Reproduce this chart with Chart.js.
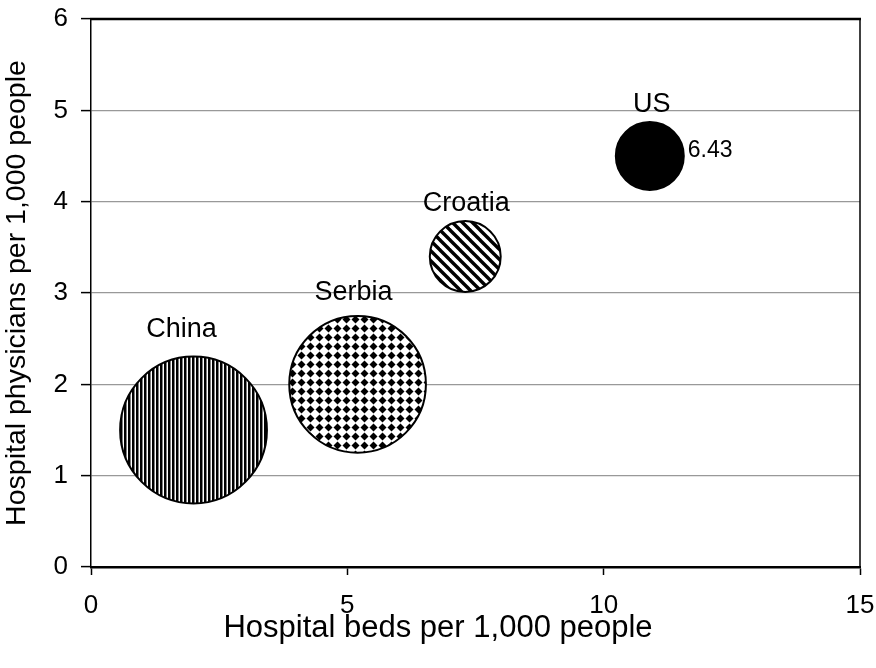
<!DOCTYPE html>
<html>
<head>
<meta charset="utf-8">
<script src="https://cdn.jsdelivr.net/npm/chart.js@4/dist/chart.umd.min.js"></script>
<style>
  html, body { margin: 0; padding: 0; background: #ffffff; }
  #wrap { width: 876px; height: 668px; }
</style>
</head>
<body>
<div id="wrap"><canvas id="chart" width="876" height="668"></canvas></div>
<script>
// Hospital resources by country
const categories = ['China', 'Serbia', 'Croatia', 'US'];
const bedsPer1000 = [2.0, 5.2, 7.3, 10.9];
const physiciansPer1000 = [1.5, 2.0, 3.4, 4.5];
const bubbleSizes = [30, 26, 7, 6.43];
const sizeLabelShown = [false, false, false, true];
const xTickValues = [0, 5, 10, 15];
const yTickValues = [0, 1, 2, 3, 4, 5, 6];
const xTitle = 'Hospital beds per 1,000 people';
const yTitle = 'Hospital physicians per 1,000 people';

const FONT = 'Liberation Sans, Arial, Helvetica, sans-serif';
const RADIUS_PER_SQRT_SIZE = 13.4;   // bubble area proportional to size

// ---- fill patterns -------------------------------------------------------
function makeTile(w, h, paint) {
  const c = document.createElement('canvas');
  c.width = w; c.height = h;
  const g = c.getContext('2d');
  g.fillStyle = '#ffffff';
  g.fillRect(0, 0, w, h);
  g.fillStyle = '#000000';
  g.strokeStyle = '#000000';
  paint(g, w, h);
  return g.createPattern(c, 'repeat');
}
const verticalStripes = makeTile(4, 4, (g) => { g.fillRect(0, 0, 2.5, 4); });
const diamonds = makeTile(9, 9, (g) => {
  g.beginPath();
  g.moveTo(4.5, 0.5); g.lineTo(8.5, 4.5); g.lineTo(4.5, 8.5); g.lineTo(0.5, 4.5);
  g.closePath(); g.fill();
});
const diagonalStripes = makeTile(10, 10, (g) => {
  g.lineWidth = 3.4;
  for (let k = -10; k <= 10; k += 10) {
    g.beginPath(); g.moveTo(k - 2, -2); g.lineTo(k + 12, 12); g.stroke();
  }
});
const fills = [verticalStripes, diamonds, diagonalStripes, '#000000'];

const points = categories.map((name, i) => ({
  x: bedsPer1000[i],
  y: physiciansPer1000[i],
  r: RADIUS_PER_SQRT_SIZE * Math.sqrt(bubbleSizes[i])
}));

// ---- frame on top and right of the plot, horizontal axis title -------------
const frame = {
  id: 'frame',
  afterDraw(chart) {
    const { ctx, chartArea: a } = chart;
    ctx.save();
    ctx.strokeStyle = '#000000';
    ctx.lineWidth = 2.5;
    ctx.beginPath(); ctx.moveTo(a.left - 1, a.top); ctx.lineTo(a.right + 1, a.top); ctx.stroke();
    ctx.lineWidth = 1.5;
    ctx.beginPath(); ctx.moveTo(a.right, a.top); ctx.lineTo(a.right, a.bottom); ctx.stroke();

    ctx.fillStyle = '#000000';
    ctx.font = '31px ' + FONT;
    ctx.textAlign = 'center';
    ctx.textBaseline = 'middle';
    ctx.fillText(xTitle, chart.width / 2, 628);
    ctx.restore();
  }
};

// ---- country names above bubbles and size value labels ---------------------
const bubbleLabels = {
  id: 'bubbleLabels',
  afterDatasetsDraw(chart, args, opts) {
    const { ctx } = chart;
    const meta = chart.getDatasetMeta(0);
    ctx.save();
    ctx.fillStyle = '#000000';
    meta.data.forEach((el, i) => {
      const r = el.options.radius;
      const nudge = opts.nudges[i];
      ctx.font = '27px ' + FONT;
      ctx.textAlign = 'center';
      ctx.textBaseline = 'alphabetic';
      ctx.fillText(categories[i], el.x + nudge[0], el.y - r - nudge[1]);
      if (sizeLabelShown[i]) {
        ctx.font = '23px ' + FONT;
        ctx.textAlign = 'left';
        ctx.textBaseline = 'middle';
        ctx.fillText(String(bubbleSizes[i]), el.x + r + 4, el.y - 5);
      }
    });
    ctx.restore();
  }
};

// the plot box is fixed, so edge labels may not push it inward
function noEdgePadding(s) {
  s.paddingLeft = 0; s.paddingRight = 0; s.paddingTop = 0; s.paddingBottom = 0;
}

new Chart(document.getElementById('chart'), {
  type: 'bubble',
  data: {
    datasets: [{
      data: points,
      backgroundColor: fills,
      borderColor: '#000000',
      borderWidth: 2,
      hoverRadius: 0,
      clip: false
    }]
  },
  options: {
    responsive: false,
    animation: false,
    events: [],
    layout: { autoPadding: false, padding: { top: 19, right: 16, left: 0, bottom: 0 } },
    plugins: {
      legend: { display: false },
      tooltip: { enabled: false },
      bubbleLabels: { nudges: [[-12, 20], [-4, 16], [1, 10], [2, 10]] }
    },
    scales: {
      x: {
        type: 'linear',
        min: 0, max: 15,
        afterBuildTicks: (s) => { s.ticks = xTickValues.map(v => ({ value: v })); },
        afterFit: (s) => { s.height = 101; noEdgePadding(s); },
        ticks: { color: '#000000', font: { size: 26, family: FONT }, padding: 15, maxRotation: 0 },
        grid: { drawOnChartArea: false, drawTicks: true, tickLength: 8, tickColor: '#000000', tickWidth: 1.5 },
        border: { color: '#000000', width: 2.5 }
      },
      y: {
        type: 'linear',
        min: 0, max: 6,
        afterBuildTicks: (s) => { s.ticks = yTickValues.map(v => ({ value: v })); },
        afterFit: (s) => { s.width = 91; noEdgePadding(s); },
        ticks: { color: '#000000', font: { size: 26, family: FONT }, padding: 13 },
        grid: {
          color: (c) => (c.tick && (c.tick.value === 0 || c.tick.value === 6)) ? 'rgba(0,0,0,0)' : '#999999',
          lineWidth: 1.2,
          drawTicks: true, tickLength: 10, tickColor: '#000000', tickWidth: 1.5
        },
        border: { color: '#000000', width: 1.5 },
        title: {
          display: true,
          text: yTitle,
          color: '#000000',
          font: { size: 28.5, family: FONT },
          padding: { top: 0, bottom: 0 }
        }
      }
    }
  },
  plugins: [frame, bubbleLabels]
});
</script>
</body>
</html>
